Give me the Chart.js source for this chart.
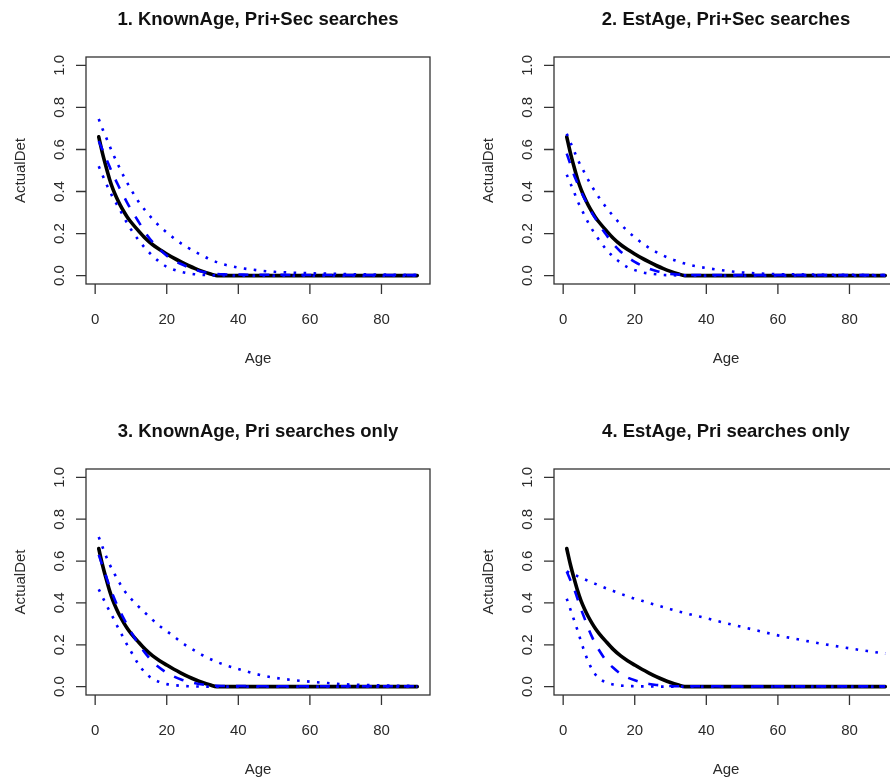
<!DOCTYPE html>
<html>
<head>
<meta charset="utf-8">
<script src="https://cdn.jsdelivr.net/npm/chart.js@4/dist/chart.umd.min.js"></script>
<style>
  html, body { margin: 0; padding: 0; background: #fff; }
  body { width: 890px; height: 784px; overflow: hidden; position: relative; }
  canvas { position: absolute; }
</style>
</head>
<body>
<canvas id="p1" width="470" height="392" style="left:0;top:0"></canvas>
<canvas id="p2" width="470" height="392" style="left:445px;top:0"></canvas>
<canvas id="p3" width="470" height="392" style="left:0;top:392px"></canvas>
<canvas id="p4" width="470" height="392" style="left:445px;top:392px"></canvas>
<script>
// Age grid shared by every curve
const ages = [1,2,3,4,5,6,7,8,9,10,12,14,16,18,20,22,24,26,28,30,32,34,36,40,45,50,55,60,65,70,75,80,85,90];

// True detection probability by age (same in all four panels)
const actualDet = [0.66,0.585,0.52,0.46,0.41,0.37,0.335,0.305,0.278,0.255,0.215,0.178,0.148,0.124,0.103,0.083,0.065,0.048,0.033,0.02,0.009,0,0,0,0,0,0,0,0,0,0,0,0,0];

// 1. KnownAge, Pri+Sec searches
const knownPriSecUpper = [0.745,0.70,0.66,0.618,0.578,0.542,0.506,0.472,0.44,0.41,0.355,0.31,0.27,0.235,0.205,0.178,0.153,0.132,0.113,0.095,0.078,0.064,0.053,0.038,0.026,0.018,0.014,0.011,0.009,0.007,0.006,0.005,0.004,0.003];
const knownPriSecMean  = [0.64,0.6,0.56,0.52,0.48,0.445,0.41,0.378,0.345,0.315,0.26,0.205,0.16,0.125,0.095,0.072,0.055,0.04,0.028,0.018,0.012,0.008,0.006,0.005,0.004,0.004,0.003,0.003,0.003,0.002,0.002,0.002,0.002,0.002];
const knownPriSecLower = [0.52,0.48,0.44,0.405,0.37,0.34,0.31,0.278,0.248,0.22,0.172,0.13,0.095,0.065,0.042,0.028,0.018,0.011,0.006,0.003,0.002,0.001,0.001,0,0,0,0,0,0,0,0,0,0,0];

// 2. EstAge, Pri+Sec searches
const estPriSecUpper = [0.675,0.635,0.595,0.555,0.52,0.488,0.455,0.425,0.398,0.372,0.325,0.283,0.245,0.212,0.182,0.155,0.132,0.112,0.095,0.08,0.068,0.057,0.048,0.036,0.024,0.015,0.01,0.007,0.006,0.005,0.004,0.004,0.003,0.003];
const estPriSecMean  = [0.58,0.53,0.48,0.44,0.40,0.365,0.332,0.3,0.272,0.245,0.195,0.15,0.115,0.088,0.065,0.047,0.033,0.022,0.014,0.008,0.005,0.004,0.003,0.003,0.002,0.002,0.002,0.002,0.002,0.002,0.002,0.002,0.002,0.002];
const estPriSecLower = [0.48,0.44,0.4,0.355,0.32,0.285,0.252,0.222,0.195,0.17,0.125,0.09,0.062,0.04,0.026,0.016,0.01,0.006,0.003,0.002,0.001,0.001,0,0,0,0,0,0,0,0,0,0,0,0];

// 3. KnownAge, Pri searches only
const knownPriUpper = [0.715,0.67,0.625,0.585,0.553,0.52,0.49,0.462,0.44,0.42,0.385,0.352,0.32,0.29,0.265,0.24,0.213,0.19,0.17,0.15,0.133,0.118,0.105,0.084,0.06,0.043,0.032,0.024,0.017,0.011,0.008,0.006,0.004,0.003];
const knownPriMean  = [0.63,0.58,0.53,0.48,0.435,0.395,0.358,0.325,0.292,0.262,0.207,0.16,0.12,0.09,0.066,0.048,0.034,0.024,0.016,0.01,0.006,0.004,0.003,0.003,0.002,0.002,0.002,0.002,0.002,0.002,0.002,0.002,0.002,0.002];
const knownPriLower = [0.465,0.43,0.395,0.362,0.33,0.295,0.262,0.23,0.198,0.168,0.11,0.066,0.038,0.022,0.012,0.007,0.004,0.002,0.001,0,0,0,0,0,0,0,0,0,0,0,0,0,0,0];

// 4. EstAge, Pri searches only
const estPriUpper = [0.55,0.543,0.535,0.528,0.52,0.513,0.505,0.498,0.491,0.484,0.47,0.457,0.444,0.432,0.42,0.41,0.4,0.39,0.38,0.37,0.36,0.352,0.343,0.327,0.305,0.285,0.265,0.245,0.228,0.212,0.197,0.183,0.17,0.158];
const estPriMean  = [0.55,0.51,0.47,0.42,0.37,0.325,0.28,0.24,0.205,0.175,0.125,0.09,0.062,0.043,0.03,0.02,0.013,0.008,0.005,0.003,0.002,0.002,0.002,0.002,0.001,0.001,0.001,0.001,0.001,0.001,0.001,0.001,0.001,0.001];
const estPriLower = [0.42,0.37,0.32,0.27,0.215,0.165,0.12,0.085,0.058,0.04,0.02,0.01,0.005,0.003,0.002,0.001,0.001,0,0,0,0,0,0,0,0,0,0,0,0,0,0,0,0,0];

const panelTitles = ["1. KnownAge, Pri+Sec searches", "2. EstAge, Pri+Sec searches",
                     "3. KnownAge, Pri searches only", "4. EstAge, Pri searches only"];
const xTicks = [0, 20, 40, 60, 80];
const yTicks = [0.0, 0.2, 0.4, 0.6, 0.8, 1.0];
const xAxisLabel = "Age";
const yAxisLabel = "ActualDet";

const FONT = '"Liberation Sans", Arial, Helvetica, sans-serif';

// Base-graphics style frame: box, outward ticks, rotated y labels, title
const rAxes = {
  id: 'rAxes',
  afterDraw(chart, args, opts) {
    const ctx = chart.ctx, a = chart.chartArea, xs = chart.scales.x, ys = chart.scales.y;
    ctx.save();
    ctx.strokeStyle = '#333';
    ctx.lineWidth = 1.3;
    ctx.strokeRect(a.left, a.top, a.right - a.left, a.bottom - a.top);
    ctx.beginPath();
    xTicks.forEach(v => {
      const px = xs.getPixelForValue(v);
      ctx.moveTo(px, a.bottom); ctx.lineTo(px, a.bottom + 10);
    });
    yTicks.forEach(v => {
      const py = ys.getPixelForValue(v);
      ctx.moveTo(a.left, py); ctx.lineTo(a.left - 10, py);
    });
    ctx.stroke();

    ctx.fillStyle = '#2a2a2a';
    ctx.font = '15px ' + FONT;
    ctx.textAlign = 'center';
    ctx.textBaseline = 'alphabetic';
    xTicks.forEach(v => ctx.fillText(String(v), xs.getPixelForValue(v), a.bottom + 40));
    ctx.fillText(xAxisLabel, (a.left + a.right) / 2, a.bottom + 79);
    yTicks.forEach(v => {
      ctx.save();
      ctx.translate(a.left - 22, ys.getPixelForValue(v));
      ctx.rotate(-Math.PI / 2);
      ctx.fillText(v.toFixed(1), 0, 0);
      ctx.restore();
    });
    ctx.save();
    ctx.translate(a.left - 61, (a.top + a.bottom) / 2);
    ctx.rotate(-Math.PI / 2);
    ctx.fillText(yAxisLabel, 0, 0);
    ctx.restore();

    ctx.fillStyle = '#111';
    ctx.font = 'bold 18.5px ' + FONT;
    ctx.fillText(opts.title, (a.left + a.right) / 2, a.top - 32);
    ctx.restore();
  }
};

function points(values) {
  return ages.map((age, i) => ({ x: age, y: values[i] }));
}

function blueLine(values, dash) {
  return {
    data: points(values),
    showLine: true,
    borderColor: '#0000ff',
    borderWidth: 2.6,
    borderDash: dash,
    pointRadius: 0,
    fill: false,
    cubicInterpolationMode: 'monotone'
  };
}

function makePanel(id, title, upper, mean, lower, padding) {
  new Chart(document.getElementById(id), {
    type: 'scatter',
    data: {
      datasets: [
        blueLine(upper, [2.6, 7.4]),
        blueLine(lower, [2.6, 7.4]),
        blueLine(mean, [10, 11]),
        {
          data: points(actualDet),
          showLine: true,
          borderColor: '#000',
          borderWidth: 3.6,
          borderCapStyle: 'round',
          borderJoinStyle: 'round',
          pointRadius: 0,
          fill: false,
          cubicInterpolationMode: 'monotone'
        }
      ]
    },
    options: {
      responsive: false,
      animation: false,
      events: [],
      layout: { padding: padding },
      scales: {
        x: { type: 'linear', min: -2.56, max: 93.56, display: false },
        y: { type: 'linear', min: -0.04, max: 1.04, display: false }
      },
      plugins: {
        legend: { display: false },
        tooltip: { enabled: false },
        rAxes: { title: title }
      }
    },
    plugins: [rAxes]
  });
}

makePanel('p1', panelTitles[0], knownPriSecUpper, knownPriSecMean, knownPriSecLower,
          { left: 86, right: 40, top: 57, bottom: 108 });
makePanel('p2', panelTitles[1], estPriSecUpper, estPriSecMean, estPriSecLower,
          { left: 109, right: 17, top: 57, bottom: 108 });
makePanel('p3', panelTitles[2], knownPriUpper, knownPriMean, knownPriLower,
          { left: 86, right: 40, top: 77, bottom: 89 });
makePanel('p4', panelTitles[3], estPriUpper, estPriMean, estPriLower,
          { left: 109, right: 17, top: 77, bottom: 89 });
</script>
</body>
</html>
